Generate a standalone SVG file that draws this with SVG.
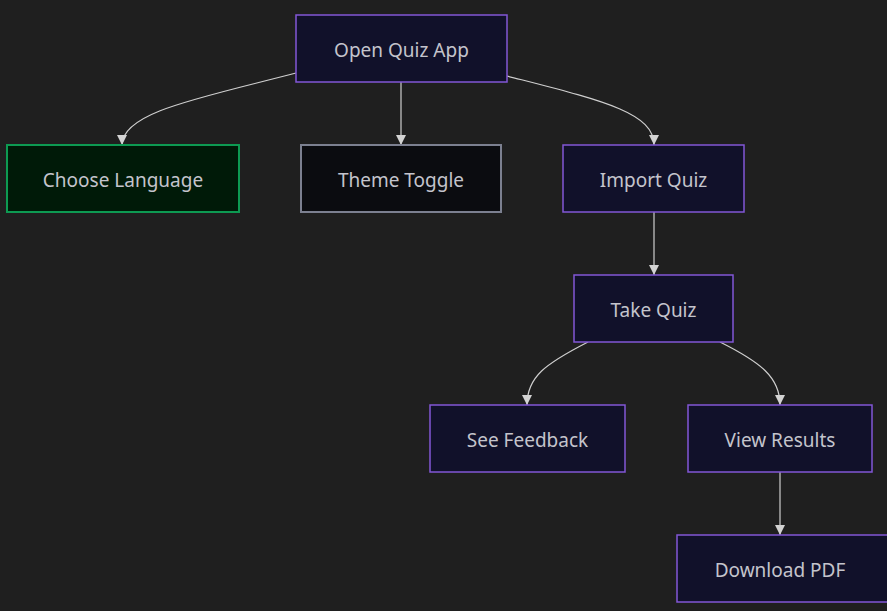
<svg xmlns="http://www.w3.org/2000/svg" width="887" height="611" viewBox="0 0 887 611">
<defs>
<style>
.n rect{fill:#11112a;stroke:#8257d6;stroke-width:1.5}
.g rect{fill:#001a08;stroke:#0d9a52;stroke-width:2}
.t rect{fill:#0b0c10;stroke:#7c8090;stroke-width:2}
text{font-family:"Noto Sans","Open Sans",sans-serif;font-size:19px;fill:#c4c4cc;text-anchor:middle;dominant-baseline:central}
.e path{fill:none;stroke:#cfcfcf;stroke-width:1.2;marker-end:url(#a)}
</style>
<marker id="a" viewBox="0 0 10 10" refX="10" refY="5" markerWidth="10" markerHeight="10" markerUnits="userSpaceOnUse" orient="auto">
<path d="M0,0 L10,5 L0,10 Z" fill="#d3d3d3"/>
</marker>
</defs>
<rect width="887" height="611" fill="#1f1f1f"/>
<g class="e" id="connectors">
<path d="M296,73 C200,98 122,112 122,145"/>
<path d="M401,82 L401,145"/>
<path d="M507,76 C600,100 654,112 654,145"/>
<path d="M654,212 L654,275"/>
<path d="M588,342 C545,364 527,377 527,405"/>
<path d="M720,342 C760,362 780,377 780,405"/>
<path d="M780,472 L780,535"/>
</g>
<g id="open" class="n"><rect x="296" y="15" width="211" height="67"/><text x="401.5" y="50">Open Quiz App</text></g>
<g id="lang" class="g"><rect x="7" y="145" width="232" height="67"/><text x="123" y="180">Choose Language</text></g>
<g id="theme" class="t"><rect x="301" y="145" width="200" height="67"/><text x="401" y="180">Theme Toggle</text></g>
<g id="import" class="n"><rect x="563" y="145" width="181" height="67"/><text x="653.5" y="180">Import Quiz</text></g>
<g id="take" class="n"><rect x="574" y="275" width="159" height="67"/><text x="653.5" y="310">Take Quiz</text></g>
<g id="feedback" class="n"><rect x="430" y="405" width="195" height="67"/><text x="527.5" y="440">See Feedback</text></g>
<g id="results" class="n"><rect x="688" y="405" width="184" height="67"/><text x="780" y="440">View Results</text></g>
<g id="pdf" class="n"><rect x="677" y="535" width="212" height="67"/><text x="780" y="570">Download PDF</text></g>
</svg>
